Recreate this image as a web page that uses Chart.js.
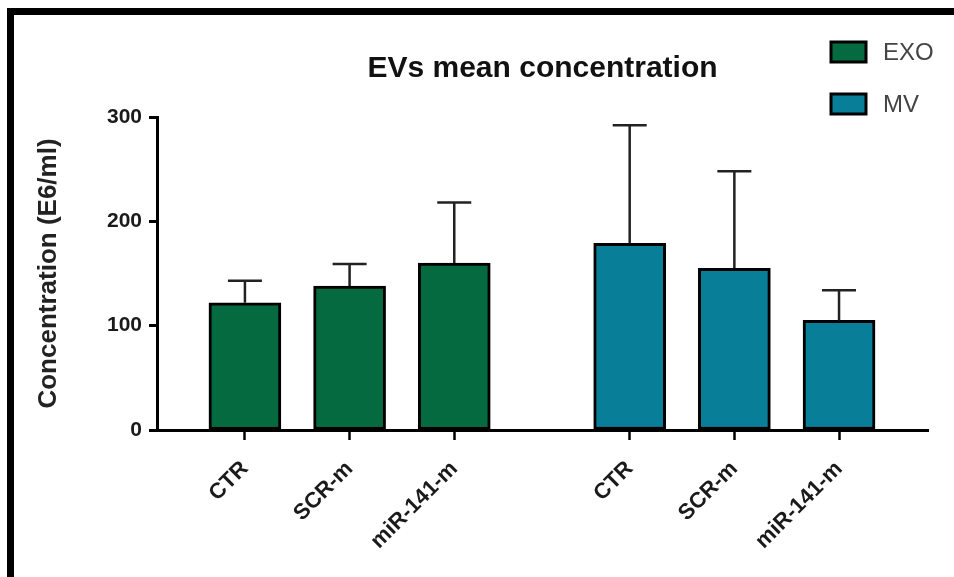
<!DOCTYPE html>
<html>
<head>
<meta charset="utf-8">
<script src="https://cdn.jsdelivr.net/npm/chart.js@4.4.1/dist/chart.umd.min.js"></script>
<style>
  html, body { margin: 0; padding: 0; background: #fff; overflow: hidden; }
  #wrap { position: relative; width: 954px; height: 577px; }
  #frame { position: absolute; left: 7px; top: 8px; width: 980px; height: 600px;
           border: 7px solid #000; box-sizing: border-box; }
  canvas { position: absolute; left: 0; top: 0; }
</style>
</head>
<body>
<div id="wrap">
  <div id="frame"></div>
  <canvas id="evChart" width="954" height="577"></canvas>
</div>
<script>
// data
var categories = ['CTR', 'SCR-m', 'miR-141-m'];
var exoMean = [122, 138, 160];
var exoSD   = [21, 21, 58];
var mvMean  = [179, 155, 105];
var mvSD    = [113, 93, 29];
var yTicks  = [0, 100, 200, 300];

var FONT = "'Liberation Sans', Arial, sans-serif";
var GROUP_GAP = 1.676;   // slot units between the two groups

var exoX = categories.map(function (c, i) { return i; });
var mvX = categories.map(function (c, i) { return categories.length - 1 + GROUP_GAP + i; });
var tickPos = exoX.concat(mvX);
var tickLabels = categories.concat(categories);

function points(xs, ys) {
    return xs.map(function (x, i) { return { x: x, y: ys[i] }; });
}

// upper-only error bars
var errorBars = {
    id: 'errorBars',
    afterDatasetsDraw: function (chart) {
        var ctx = chart.ctx, y = chart.scales.y;
        chart.data.datasets.forEach(function (ds, di) {
            var meta = chart.getDatasetMeta(di);
            meta.data.forEach(function (bar, i) {
                var top = y.getPixelForValue(ds.data[i].y + ds.sd[i]);
                ctx.save();
                ctx.strokeStyle = '#222';
                ctx.lineWidth = 2.5;
                ctx.beginPath();
                ctx.moveTo(bar.x, bar.y);
                ctx.lineTo(bar.x, top);
                ctx.moveTo(bar.x - 17, top);
                ctx.lineTo(bar.x + 17, top);
                ctx.stroke();
                ctx.restore();
            });
        });
    }
};

// legend in the top right corner
var sideLegend = {
    id: 'sideLegend',
    afterDraw: function (chart) {
        var ctx = chart.ctx;
        chart.data.datasets.forEach(function (ds, i) {
            var top = 42 + i * 52;
            ctx.save();
            ctx.fillStyle = ds.backgroundColor;
            ctx.fillRect(831, top, 35, 20);
            ctx.strokeStyle = '#000';
            ctx.lineWidth = 3;
            ctx.strokeRect(831, top, 35, 20);
            ctx.fillStyle = '#444';
            ctx.font = '24px ' + FONT;
            ctx.textBaseline = 'middle';
            ctx.fillText(ds.label, 883, top + 11);
            ctx.restore();
        });
    }
};

var ctx = document.getElementById('evChart').getContext('2d');
window.evChart = new Chart(ctx, {
    type: 'bar',
    data: {
        datasets: [{
            label: 'EXO',
            data: points(exoX, exoMean),
            sd: exoSD,
            backgroundColor: '#066a41',
            borderColor: '#000',
            borderWidth: 3,
            borderSkipped: false,
            barThickness: 72
        }, {
            label: 'MV',
            data: points(mvX, mvMean),
            sd: mvSD,
            backgroundColor: '#087e98',
            borderColor: '#000',
            borderWidth: 3,
            borderSkipped: false,
            barThickness: 72
        }]
    },
    options: {
        responsive: false,
        animation: false,
        grouped: false,
        layout: { padding: { left: 0, top: 0, right: 26, bottom: 0 } },
        plugins: {
            legend: { display: false },
            tooltip: { enabled: false },
            title: {
                display: true,
                text: 'EVs mean concentration',
                fullSize: false,
                color: '#111',
                font: { family: FONT, size: 30, weight: 'bold' },
                padding: { top: 51, bottom: 30 }
            }
        },
        scales: {
            x: {
                type: 'linear',
                min: -0.84,
                max: tickPos[tickPos.length - 1] + 0.85,
                offset: false,
                afterBuildTicks: function (scale) {
                    scale.ticks = tickPos.map(function (v) { return { value: v }; });
                },
                afterFit: function (scale) { scale.height = 147; },
                border: { display: true, color: '#000', width: 3 },
                grid: { offset: false, drawOnChartArea: false, drawTicks: true, tickLength: 10, tickWidth: 2.5, tickColor: '#000' },
                ticks: {
                    autoSkip: false,
                    maxRotation: 45,
                    minRotation: 45,
                    padding: 16,
                    color: '#1a1a1a',
                    font: { family: FONT, size: 22, weight: 'bold' },
                    callback: function (value, index) { return tickLabels[index]; }
                }
            },
            y: {
                min: yTicks[0],
                max: yTicks[yTicks.length - 1],
                afterBuildTicks: function (scale) {
                    scale.ticks = yTicks.map(function (v) { return { value: v }; });
                },
                afterFit: function (scale) { scale.width = 157; },
                border: { display: true, color: '#000', width: 3 },
                grid: { drawOnChartArea: false, drawTicks: true, tickLength: 8, tickWidth: 3, tickColor: '#000' },
                ticks: {
                    padding: 7,
                    color: '#1a1a1a',
                    font: { family: FONT, size: 21, weight: 'bold' }
                },
                title: {
                    display: true,
                    text: 'Concentration (E6/ml)',
                    color: '#222',
                    font: { family: FONT, size: 26, weight: 'bold' },
                    padding: { top: 33, bottom: 0 }
                }
            }
        }
    },
    plugins: [errorBars, sideLegend]
});
</script>
</body>
</html>
